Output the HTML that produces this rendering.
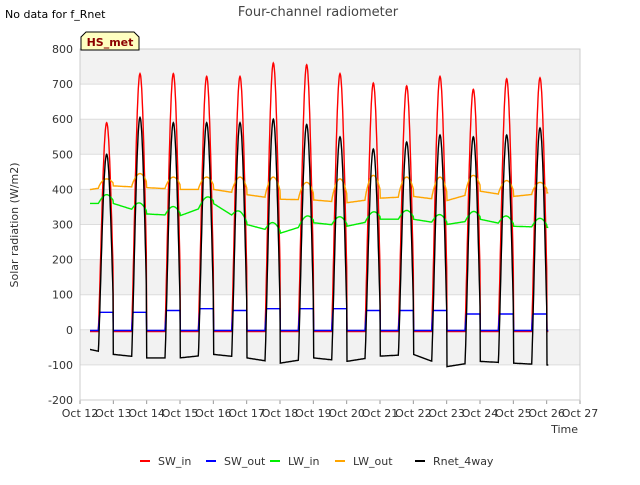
<!DOCTYPE html>
<html><head><meta charset="utf-8"><style>
body{margin:0;background:#fff;font-family:"Liberation Sans",sans-serif;}
svg text{font-family:"DejaVu Sans","Liberation Sans",sans-serif;}
</style></head><body>
<svg id="c" width="640" height="480">
<rect x="0" y="0" width="640" height="480" fill="#fff"/>
<text x="5" y="18" font-size="11" fill="#000">No data for f_Rnet</text>
<text x="318" y="16" font-size="13" fill="#444" text-anchor="middle">Four-channel radiometer</text>
<g id="bands"></g><g id="grid"></g><g id="series"></g><g id="axes"></g>
<text x="18" y="225" font-size="11" fill="#333" text-anchor="middle" transform="rotate(-90 18 225)">Solar radiation (W/m2)</text>
<text x="578" y="433" font-size="11" fill="#333" text-anchor="end">Time</text>
<g>
<path d="M81,50 L81,37 L86,32 L134,32 L139,37 L139,50 Z" fill="#ffffc0" stroke="#000" stroke-width="1"/>
<text x="110" y="46" font-size="11" font-weight="bold" fill="#8b0000" text-anchor="middle">HS_met</text>
</g>
<g id="legend"></g>
</svg>
<script>
const days=["Oct 12","Oct 13","Oct 14","Oct 15","Oct 16","Oct 17","Oct 18","Oct 19","Oct 20","Oct 21","Oct 22","Oct 23","Oct 24","Oct 25","Oct 26","Oct 27"];
const yTicks=[-200,-100,0,100,200,300,400,500,600,700,800];
const swInPeak=[590,730,730,722,722,760,755,730,703,695,722,685,715,718];
const swOutPeak=[50,50,55,60,55,60,60,60,55,55,55,45,45,45];
const rnetPeak=[500,605,590,590,590,600,585,550,515,535,555,550,555,575];
const rnetNight=[-50,-70,-80,-80,-70,-80,-95,-80,-90,-75,-70,-105,-90,-95,-100];
const lwInLevel=[360,360,330,325,360,300,275,305,295,315,315,300,315,295,292];
const lwOutBase=[395,410,405,400,400,385,372,370,362,375,380,368,395,380,390];
const lwOutPeak=[430,445,435,435,435,435,420,430,440,435,435,440,425,420];
const X0=80,X1=580,Y0=400,Y1=49;
const xs=d=>X0+(d)/15*(X1-X0);
const ys=v=>Y0-(v+200)/1000*(Y0-Y1);
const NS="http://www.w3.org/2000/svg";
function mk(t,a,p){const e=document.createElementNS(NS,t);for(const k in a)e.setAttribute(k,a[k]);p.appendChild(e);return e;}
const bands=document.getElementById('bands'),grid=document.getElementById('grid'),axes=document.getElementById('axes');
mk('rect',{x:X0,y:Y1,width:X1-X0,height:Y0-Y1,fill:'#fff'},bands);
for(let i=0;i<yTicks.length-1;i++){
  if(i%2==1){const r=mk('rect',{x:X0,y:ys(yTicks[i+1]),width:X1-X0,height:ys(yTicks[i])-ys(yTicks[i+1]),fill:'#f2f2f2'},bands);
  
  }
}
yTicks.forEach(v=>{
  mk('line',{x1:X0,x2:X1,y1:ys(v),y2:ys(v),stroke:'#ddd','stroke-width':1},grid);
  const t=mk('text',{x:X0-7,y:ys(v)+4,'font-size':11,fill:'#333','text-anchor':'end'},axes);t.textContent=v;
  
  
});
days.forEach((d,i)=>{
  mk('line',{x1:xs(i),x2:xs(i),y1:Y0,y2:Y0+4,stroke:'#999'},axes);
  const t=mk('text',{x:xs(i),y:Y0+17,'font-size':11,fill:'#333','text-anchor':'middle'},axes);t.textContent=d;
  
  
});
mk('rect',{x:X0,y:Y1,width:X1-X0,height:Y0-Y1,fill:'none',stroke:'#ccc'},axes);
const start=0.3,end=14.05,step=0.01;
function dayShape(t){const d=Math.floor(t),f=t-d;const a=(f-0.55)/0.5;let s=0;if(a>0&&a<1)s=Math.pow(Math.sin(Math.PI*a),1.0);return{d,f,s};}
function lerp(arr,t){const i=Math.min(Math.floor(t),arr.length-2);const u=t-i;return arr[i]*(1-u)+arr[i+1]*u;}
const sets={SW_in:[],SW_out:[],LW_in:[],LW_out:[],Rnet_4way:[]};
for(let t=start;t<=end;t+=step){
  const {d,f,s}=dayShape(t);const di=Math.min(d,13);
  sets.SW_in.push([t, s>0?swInPeak[di]*Math.pow(s,1.2):-5]);
  sets.SW_out.push([t, s>0?Math.min(swOutPeak[di],swInPeak[di]*s*0.3):-2]);
  sets.LW_in.push([t, lerp(lwInLevel,t)+25*s]);
  sets.LW_out.push([t, lerp(lwOutBase,t)+(lwOutPeak[di]-lerp(lwOutBase,t))*Math.pow(s,0.8)]);
  const n=lerp(rnetNight,t);
  sets.Rnet_4way.push([t, n+(rnetPeak[di]-n)*Math.pow(s,1.2)]);
}
const colors={SW_in:'#ff0000',SW_out:'#0000ff',LW_in:'#00ee00',LW_out:'#ffa500',Rnet_4way:'#000000'};
const sg=document.getElementById('series');
Object.keys(sets).forEach(k=>{
  const p=mk('path',{d:sets[k].map((q,i)=>(i?'L':'M')+xs(q[0]).toFixed(1)+','+ys(q[1]).toFixed(1)).join(''),fill:'none',stroke:colors[k],'stroke-width':1.4},sg);
  
  
});
const lg=document.getElementById('legend');
const lx=[140,206,270,335,415];
Object.keys(sets).forEach((k,i)=>{
  const g=mk('g',{},lg);
  
  
  mk('line',{x1:lx[i],x2:lx[i]+10,y1:461,y2:461,stroke:colors[k],'stroke-width':2},g);
  const t=mk('text',{x:lx[i]+18,y:465,'font-size':11,fill:'#333'},g);t.textContent=k;
});
</script>
</body></html>
